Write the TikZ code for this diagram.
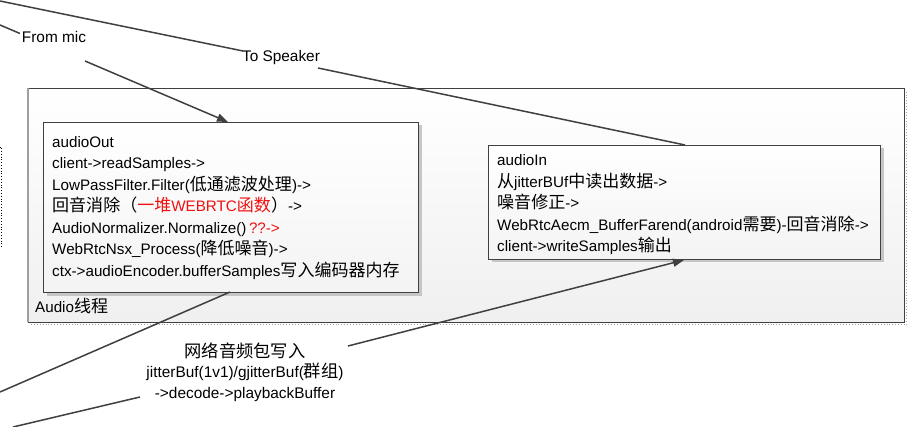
\documentclass[tikz,border=0pt]{standalone}
\usepackage{fontspec}
\setmainfont{Liberation Sans}
\newfontfamily\cjk{Noto Sans CJK SC}[Scale=1.12]
\usetikzlibrary{arrows.meta,calc,shadows}
\newcommand\zh[1]{{\cjk #1}}
\definecolor{lin}{HTML}{404040}
\definecolor{redtxt}{HTML}{F01010}
\begin{document}
\begin{tikzpicture}[x=1pt,y=-1pt,
  txt/.style={font=\fontsize{15.2}{21.5}\selectfont, inner sep=0pt, align=left, anchor=west, text=black},
  lbl/.style={font=\fontsize{15.4}{20.5}\selectfont, inner sep=1pt, align=center, text=black},
  conn/.style={draw=lin, line width=1.5pt},
  arr/.style={conn, -{Triangle[length=11pt,width=8pt]}},
  boxstyle/.style={draw=lin, line width=0.9pt, top color=white, bottom color=gray!9, inner sep=0pt},
  inbox/.style={boxstyle, drop shadow={shadow xshift=3.5pt, shadow yshift=-3.5pt, opacity=1, fill=gray!45}}]
\useasboundingbox (0,0) rectangle (909,427);
\fill[white] (0,0) rectangle (909,427);

% partial shapes at the edges
\draw[black, dotted, line width=0.8pt] (0,147) -- (1.5,147) -- (1.5,248);

% outer thread box
\draw[gray!70, dotted, line width=0.9pt] (31,324.5) -- (906.8,324.5) -- (906.8,91);
\node[boxstyle, minimum width=876pt, minimum height=234pt, top color=white, bottom color=gray!12] (outer) at (466,205) {};
\draw[gray!75, line width=1.6pt] ($(outer.north west)+(0.5,0)$) -- ($(outer.south west)+(0.5,0)$);
\node[txt, font=\fontsize{15.2}{17}\selectfont] (thr) at (35,306) {Audio\zh{线程}};

% inner boxes
\node[inbox, minimum width=375pt, minimum height=170pt] (box1) at (230.5,207) {};
\node[txt] (t1) at (52,208) {audioOut\\
client->readSamples->\\
LowPassFilter.Filter(\zh{低通滤波处理})->\\
\zh{回音消除（}\textcolor{redtxt}{\zh{一堆}WEBRTC\zh{函数}}\zh{）}->\\
AudioNormalizer.Normalize()\,\textcolor{redtxt}{??->}\\
WebRtcNsx\_Process(\zh{降低噪音})->\\
ctx->audioEncoder.bufferSamples\zh{写入编码器内存}};

\node[inbox, minimum width=392pt, minimum height=114pt] (box2) at (684,202) {};
\node[txt] (t2) at (497,205) {audioIn\\
\zh{从}jitterBUf\zh{中读出数据}->\\
\zh{噪音修正}->\\
WebRtcAecm\_BufferFarend(android\zh{需要})-\zh{回音消除}->\\
client->writeSamples\zh{输出}};

% labels
\node[lbl] (frommic) at (54,37) {From mic};
\node[lbl] (tospk) at (281,58) {To Speaker};
\node[lbl] (net) at (245,372) {\zh{网络音频包写入}\\jitterBuf(1v1)/gjitterBuf(\zh{群组})\\->decode->playbackBuffer};

% connector points
\coordinate (micsrc) at (0,25);
\coordinate (mica) at (20,33.5);
\coordinate (micb) at (85,61);
\coordinate (b1top) at (228,122);
\coordinate (spksrc) at (0,1);
\coordinate (spka) at (243,51);
\coordinate (spkb) at (318,68);
\coordinate (b2top) at (685,145);
\coordinate (b1bot) at (230,292);
\coordinate (out1) at (0,392);
\coordinate (netsrc) at (13,427);
\coordinate (neta) at (140,397);
\coordinate (netb) at (348,346);
\coordinate (b2bot) at (684,260);

% connectors
\draw[conn] (micsrc) -- (mica);
\draw[arr] (micb) -- (b1top);
\draw[conn] (spksrc) -- (spka);
\draw[conn] (spkb) -- (b2top);
\draw[conn] (b1bot) -- (out1);
\draw[conn] (netsrc) -- (neta);
\draw[arr] (netb) -- (b2bot);
\end{tikzpicture}
\end{document}
